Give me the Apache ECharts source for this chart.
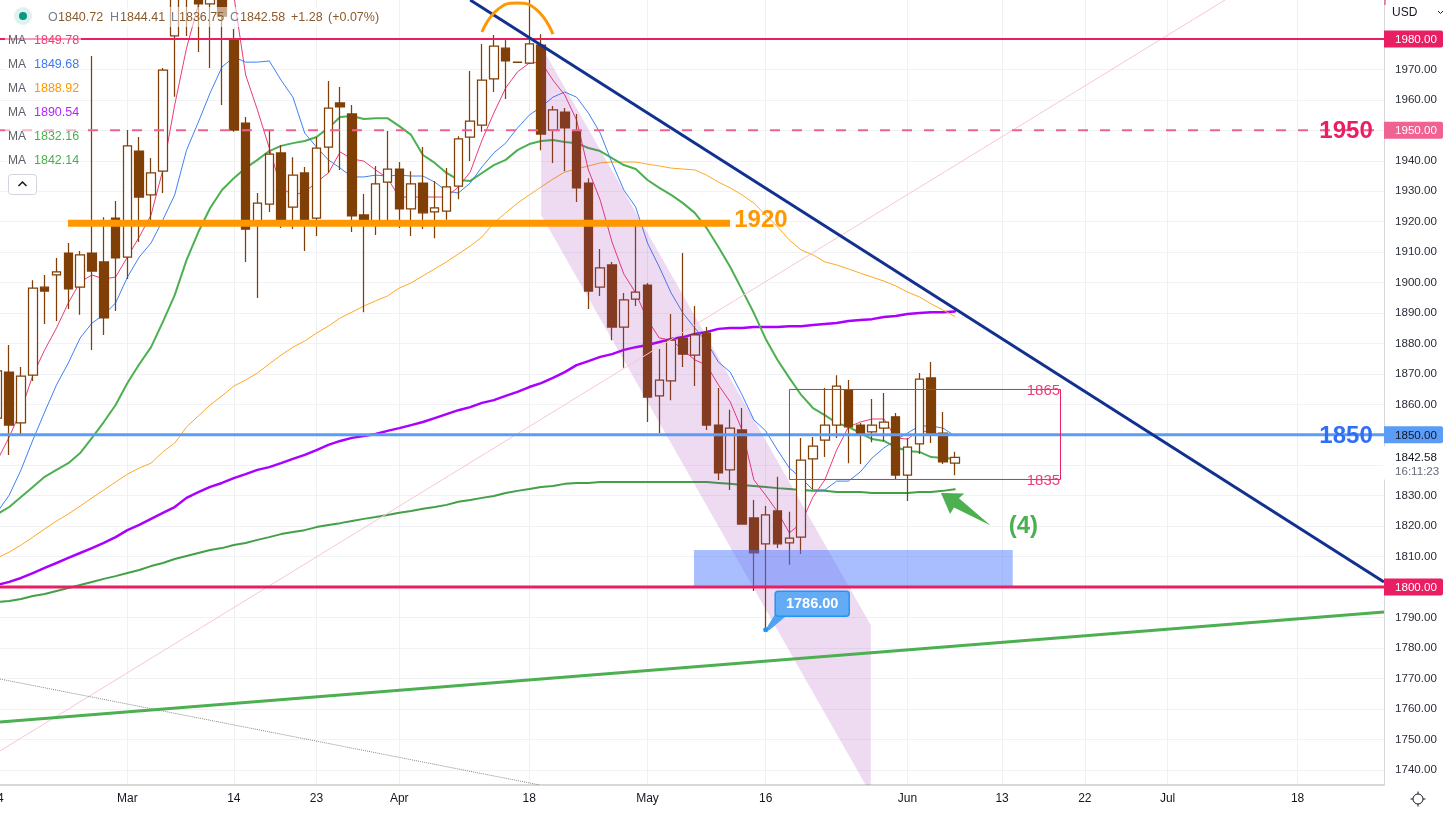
<!DOCTYPE html>
<html><head><meta charset="utf-8">
<style>html,body{margin:0;padding:0;background:#fff}#c{width:1449px;height:813px}</style>
<script src="https://cdn.jsdelivr.net/npm/echarts@6/dist/echarts.min.js"></script>
</head><body><div id="c"></div>
<script>
const opens=[1855.5,1870.6,1853.9,1869.6,1898.5,1902.5,1909.7,1898.5,1909.7,1906.8,
1921.2,1908.4,1943.2,1928.8,1936.6,1981.0,2000,1998,1991.5,2000,
1980.0,1952.4,1919.2,1925.8,1942.6,1924.8,1936.0,1921.2,1944.5,1959.0,
1955.4,1922.2,1919.9,1933.0,1937.3,1924.2,1932.7,1923.2,1923.5,1931.7,
1947.8,1951.7,1966.9,1977.0,1972.4,1972.1,1978.0,1950.1,1956.0,1949.8,
1932.7,1898.5,1905.8,1885.4,1894.6,1899.2,1862.8,1867.7,1881.8,1876.2,
1883.4,1853.2,1838.5,1851.6,1822.7,1814.2,1825.0,1814.5,1816.4,1842.1,
1848.3,1853.2,1864.7,1853.2,1851.0,1852.2,1855.9,1836.8,1847.0,1868.7,
1850.6,1840.72];
const closes=[1871.0,1853.2,1869.3,1898.2,1897.2,1903.5,1897.9,1909.1,1903.8,1888.4,
1908.1,1944.9,1928.1,1936.0,1969.8,1996,1996,1991.5,1998,1987.5,
1950.1,1917.6,1926.1,1942.2,1919.9,1935.3,1919.9,1944.2,1957.3,1957.7,
1921.9,1919.9,1932.4,1937.3,1924.2,1932.4,1922.9,1924.5,1931.4,1947.2,
1953.0,1966.5,1977.7,1972.8,1972.3,1978.4,1948.8,1956.7,1950.8,1931.1,
1897.2,1904.8,1885.4,1894.3,1896.9,1862.4,1868.0,1881.1,1876.5,1882.8,
1853.2,1837.5,1852.2,1820.7,1811.2,1823.7,1814.2,1816.1,1841.7,1846.3,
1853.2,1866.0,1852.6,1850.3,1853.2,1854.2,1836.8,1846.0,1868.3,1850.6,
1841.1,1842.58];
const lows=[1848.3,1843.4,1850.3,1867.7,1886.4,1887.4,1891.3,1889.4,1877.9,1882.8,
1890.7,1901.2,1913.3,1919.9,1929.4,1961.0,1981.0,1975.7,1970.5,1958.3,
1949.5,1906.8,1894.9,1923.2,1917.9,1917.6,1910.4,1915.3,1936.0,1937.0,
1916.6,1890.3,1915.6,1919.9,1917.9,1915.3,1917.6,1914.6,1920.6,1927.4,
1939.9,1949.5,1962.6,1960.3,1972.2,1971.8,1943.5,1939.3,1936.6,1926.5,
1891.3,1895.6,1881.1,1872.0,1892.3,1854.2,1850.6,1861.4,1872.3,1866.0,
1851.6,1835.2,1831.9,1820.7,1798.7,1786.0,1812.8,1807.3,1810.9,1832.2,
1842.7,1849.0,1840.7,1840.4,1847.6,1848.0,1835.5,1828.3,1843.7,1847.3,
1840.4,1836.75];
const highs=[1877.9,1879.5,1872.3,1900.8,1902.5,1908.1,1913.0,1910.4,1974.4,1921.5,
1926.8,1950.1,1947.8,1940.9,1970.5,2002,2004,2002,2003,2004,
1983.3,1954.4,1929.4,1949.8,1945.2,1941.2,1938.0,1947.8,1966.2,1964.2,
1958.3,1929.1,1938.3,1949.8,1939.6,1936.6,1944.5,1933.4,1937.6,1948.1,
1969.5,1978.4,1981.3,1979.7,1972.5,1994,1981.6,1958.0,1957.3,1955.4,
1934.3,1911.0,1906.8,1896.6,1919.9,1899.9,1878.2,1889.7,1909.7,1892.3,
1885.4,1865.4,1858.2,1858.8,1828.6,1826.6,1836.2,1824.7,1849.0,1849.3,
1865.4,1869.6,1868.0,1853.9,1861.8,1863.7,1857.2,1849.0,1870.3,1873.9,
1857.5,1844.41];

const maPink=[1841.7,1849.3,1858.1,1869.6,1877.9,1885.1,1893.3,1900.2,1902.5,1901.2,
1901.8,1908.4,1915.0,1922.2,1937.0,1958.3,1977.0,1991.2,2002.7,2005.9,
1994.4,1968.2,1956.7,1944.2,1931.1,1928.8,1929.7,1933.0,1936.0,1942.9,
1940.6,1939.9,1937.0,1934.3,1928.1,1928.1,1928.1,1928.1,1928.1,1931.4,
1936.3,1946.8,1955.7,1963.9,1969.2,1972.1,1972.4,1966.5,1961.6,1953.4,
1937.0,1927.1,1913.3,1902.8,1896.6,1887.7,1881.8,1881.1,1877.9,1874.6,
1872.9,1866.4,1860.8,1851.6,1835.2,1830.2,1824.7,1817.8,1821.0,1829.6,
1835.2,1845.0,1852.6,1854.2,1855.2,1855.2,1849.0,1848.6,1851.6,1850.6,
1850.3,1849.78];
const maBlue=[1824.7,1830.2,1838.5,1848.3,1857.5,1866.4,1873.6,1881.8,1886.7,1889.4,
1893.3,1901.8,1908.4,1913.0,1920.6,1928.8,1943.5,1952.7,1962.3,1970.8,
1974.1,1972.4,1972.4,1972.8,1966.5,1960.9,1949.1,1944.5,1940.3,1937.6,
1934.7,1934.7,1935.3,1935.0,1935.3,1935.0,1935.0,1933.0,1930.1,1929.4,
1932.7,1938.0,1942.6,1945.8,1950.8,1955.0,1957.7,1960.9,1962.6,1960.9,
1955.7,1949.1,1939.3,1930.4,1924.8,1913.0,1905.1,1896.6,1890.0,1885.1,
1880.5,1873.9,1870.6,1863.1,1854.9,1851.3,1845.0,1839.1,1835.8,1831.9,
1831.9,1834.8,1834.8,1837.8,1842.4,1845.7,1848.3,1850.6,1852.9,1852.9,
1852.2,1849.68];
const maGreen=[1824.0,1826.3,1829.6,1832.9,1836.2,1838.5,1840.7,1844.0,1849.0,1854.2,
1859.8,1867.0,1873.2,1878.8,1887.1,1895.9,1907.4,1916.6,1924.5,1930.4,
1934.3,1937.6,1940.3,1943.2,1944.9,1945.8,1946.5,1947.8,1950.8,1954.4,
1954.7,1953.7,1954.0,1954.0,1951.4,1948.5,1941.9,1939.3,1936.0,1933.7,
1933.4,1936.0,1938.6,1940.3,1943.5,1945.5,1946.5,1946.8,1946.2,1945.8,
1944.2,1943.2,1940.9,1938.6,1937.3,1933.7,1931.1,1928.8,1926.1,1922.9,
1917.9,1911.7,1905.1,1897.6,1890.0,1881.5,1874.6,1868.7,1863.1,1858.8,
1856.5,1853.9,1852.6,1850.6,1848.6,1848.0,1846.0,1844.7,1844.4,1842.7,
1842.4,1842.14];
const maOrange=[1809.6,1811.5,1813.8,1816.4,1819.1,1821.7,1824.0,1826.6,1829.3,1831.9,
1834.5,1837.1,1839.1,1840.7,1844.4,1847.3,1852.6,1856.2,1859.8,1862.8,
1866.0,1868.0,1870.3,1873.3,1876.2,1878.8,1880.8,1883.4,1885.7,1888.4,
1890.3,1892.3,1894.0,1895.6,1898.2,1899.9,1902.2,1904.5,1906.8,1909.4,
1912.0,1915.0,1919.6,1922.9,1926.1,1928.8,1931.4,1934.0,1936.3,1937.3,
1938.3,1939.3,1939.6,1939.6,1939.6,1938.9,1938.3,1937.6,1937.3,1937.0,
1935.3,1933.0,1931.1,1928.8,1926.1,1922.2,1918.3,1914.0,1910.7,1909.1,
1906.8,1905.8,1904.5,1903.1,1901.8,1900.5,1898.9,1896.9,1895.3,1893.0,
1891.0,1888.92];
const maPurple=[1800.7,1801.7,1803.0,1804.6,1806.3,1807.9,1809.6,1811.2,1812.8,1814.5,
1816.4,1818.7,1820.4,1822.4,1824.4,1826.3,1829.3,1831.2,1832.9,1834.2,
1835.8,1837.1,1838.5,1839.4,1840.7,1842.1,1843.4,1845.0,1846.7,1848.0,
1849.0,1849.6,1850.3,1851.3,1852.2,1853.2,1854.2,1855.5,1856.8,1858.1,
1859.1,1860.5,1861.4,1862.8,1864.1,1865.7,1867.0,1868.7,1870.6,1872.9,
1874.2,1875.6,1876.5,1877.9,1878.8,1879.5,1880.5,1881.5,1882.1,1883.1,
1883.8,1884.8,1885.1,1885.1,1885.4,1885.4,1885.4,1885.7,1885.7,1886.1,
1886.4,1886.7,1887.4,1887.7,1888.0,1888.7,1889.0,1889.7,1890.0,1890.3,
1890.3,1890.54];
const maLong=[1795.1,1795.4,1796.1,1797.1,1797.7,1798.7,1799.7,1800.7,1801.7,1802.7,
1803.6,1804.6,1805.6,1806.9,1807.9,1809.2,1810.2,1811.2,1812.2,1812.8,
1813.8,1814.5,1815.5,1816.4,1817.4,1818.1,1818.7,1819.7,1820.4,1821.0,
1821.7,1822.4,1823.0,1823.7,1824.4,1825.0,1825.7,1826.3,1827.0,1828.0,
1828.6,1829.3,1829.9,1830.9,1831.6,1832.2,1832.9,1833.2,1833.9,1834.2,
1834.2,1834.5,1834.5,1834.5,1834.5,1834.5,1834.5,1834.5,1834.5,1834.5,
1834.5,1834.2,1833.9,1833.5,1833.2,1832.9,1832.5,1832.2,1831.9,1831.6,
1831.6,1831.2,1831.2,1831.2,1830.9,1830.9,1830.9,1830.9,1831.2,1831.2,
1831.6,1832.16];

const xTickBars=[11,20,27,34,45,55,65,77,85,92,99,110];
const xTickLabels=['Mar','14','23','Apr','18','May','16','Jun','13','22','Jul','18'];
const yTicks=[1740,1750,1760,1770,1780,1790,1800,1810,1820,1830,1840,1850,1860,1870,1880,1890,1900,1910,1920,1930,1940,1950,1960,1970,1980];
const tagValues=[1980,1950,1850,1800];
const tagFills=['#e91e63','#f06292','#5b9cf6','#e91e63'];
const tagText=['#fff','#fff','#131722','#fff'];
const maLegend=['1849.78','1849.68','1888.92','1890.54','1832.16','1842.14'];
const maColors=['#f23b73','#3d78f5','#ff9800','#b026ff','#4caf50','#4caf50'];
const ohlcParts=['O','1840.72','H','1844.41','L','1836.75','C','1842.58','+1.28','(+0.07%)'];

const X_MIN=0.22, X_MAX=117.31, Y_MIN=1735.0, Y_MAX=1992.81;
const navyLine=[[40.0,1992.8],[117.31,1801.7]];
const greenLine=[[0.22,1755.7],[117.31,1791.8]];
const pinkLine=[[0.22,1746.2],[103.86,1992.8]];
const dottedLine=[[0.22,1769.8],[45.9,1735]];
const orangeLevel=[[5.97,1919.5],[61.98,1919.5]];
const topArc=[[41.0,1982.3],[42.27,1989.5],[43.96,1991.8],[45.65,1989.5],[47.0,1981.6]];
const bandPoly=[[46,1977.7],[73.9,1787.5],[73.9,1732],[46,1922.2]];
const zoneBox=[58.93,1812.2,85.9,1800];
const rangeBoxLine=[[67.01,1864.9],[89.94,1864.9],[89.94,1835.34],[67.01,1835.34],[67.01,1864.9]];
const arrowPoly=[[79.83,1830.9],[81.8,1830.7],[81.35,1829.2],[84.03,1820.2],[80.93,1826.1],[80.6,1824.0]];
const noteBar=65, noteValue=1786, noteText='1786.00';
const lastPrice='1842.58', lastPriceValue=1842.58, countdown='16:11:23';

const barIdx=opens.map((_,i)=>i);
const candleData=barIdx.map(i=>[i,opens[i],closes[i],lows[i],highs[i]]);
const toLine=a=>a.map((v,i)=>[i,v]);
const FONT='"Liberation Sans",Arial,sans-serif';

function maSeries(arr,color,width,z){return {type:'line',data:toLine(arr),showSymbol:false,symbol:'none',z:z||2,silent:true,
  lineStyle:{color:color,width:width,cap:'round',join:'round'}};}
function drawLine(pts,color,width,type,z,smooth){return {type:'line',data:pts,showSymbol:false,symbol:'none',z:z||6,silent:true,smooth:!!smooth,
  lineStyle:{color:color,width:width,type:type||'solid'}};}
function custom(render,z,clip){return {type:'custom',coordinateSystem:'cartesian2d',data:[[X_MIN,Y_MIN]],renderItem:render,z:z,clip:!!clip,silent:true};}
function poly(api,pts,style){return {type:'polygon',shape:{points:pts.map(p=>api.coord(p))},style:style};}
function label(api,bar,val,text,fill,font){const c=api.coord([bar,val]);
  return {type:'text',x:c[0],y:c[1],style:{text:text,fill:fill,font:font,textAlign:'center',textVerticalAlign:'middle'}};}

const series=[
  maSeries(maLong,'#43a047',2,2),
  maSeries(maPurple,'#aa00ff',2.5,2),
  maSeries(maOrange,'#ffa726',1,2),
  maSeries(maGreen,'#4caf50',2,2),
  maSeries(maBlue,'#4080f5',1,2),
  maSeries(maPink,'#ec3a74',1,2),
  {type:'candlestick',data:candleData,barWidth:9,z:3,silent:true,encode:{x:0,y:[1,2,3,4]},
   itemStyle:{color:'#ffffff',color0:'#7f3f06',borderColor:'#7f3f06',borderColor0:'#7f3f06',borderWidth:1.25}},
  custom((p,api)=>poly(api,bandPoly,{fill:'rgba(156,39,176,0.17)'}),4,true),
  custom((p,api)=>{const a=api.coord([zoneBox[0],zoneBox[1]]),b=api.coord([zoneBox[2],zoneBox[3]]);
    return {type:'rect',shape:{x:a[0],y:a[1],width:b[0]-a[0],height:b[1]-a[1]},style:{fill:'rgba(73,120,255,0.48)'}};},4,true),
  drawLine(pinkLine,'#f8c6d2',1,'solid',5),
  drawLine(dottedLine,'#8a8a8a',1,'dotted',5),
  drawLine([[X_MIN,1950],[X_MAX,1950]],'#ee6190',2,[10,12],6),
  drawLine([[X_MIN,1980],[X_MAX,1980]],'#e91e63',2,'solid',6),
  drawLine([[X_MIN,1850],[X_MAX,1850]],'#5b9cf6',3,'solid',6),
  drawLine([[X_MIN,1800],[X_MAX,1800]],'#e91e63',3,'solid',6),
  drawLine(orangeLevel,'#ff9800',7,'solid',6),
  drawLine(navyLine,'#12308f',3,'solid',7),
  drawLine(greenLine,'#4caf50',3,'solid',7),
  drawLine(topArc,'#ff9800',3,'solid',7,true),
  drawLine(rangeBoxLine,'#e91e63',1,'solid',7),
  custom((p,api)=>({type:'group',children:[
      label(api,88.5,1864.4,'1865','#ec407a','15px '+FONT),
      label(api,88.5,1835,'1835','#ec407a','15px '+FONT)]}),8),
  custom((p,api)=>({type:'group',children:[
      poly(api,arrowPoly,{fill:'#4caf50'}),
      label(api,86.8,1820,'(4)','#4caf50','bold 24px '+FONT),
      label(api,64.6,1920.5,'1920','#ff9800','bold 24px '+FONT),
      label(api,114.1,1949.7,'1950','#e91e63','bold 24px '+FONT),
      label(api,114.1,1849.5,'1850','#2f6ff5','bold 24px '+FONT)]}),8),
  custom((p,api)=>{const c=api.coord([noteBar,noteValue]);const x=c[0],y=c[1];
    return {type:'group',children:[
      {type:'polygon',shape:{points:[[x+1,y-2],[x+9,y-15],[x+22,y-15],[x+3,y+1]]},style:{fill:'#4fa3f2'}},
      {type:'circle',shape:{cx:x,cy:y,r:2.5},style:{fill:'#2196f3'}},
      {type:'rect',shape:{x:x+9.5,y:y-38.5,width:74,height:25,r:3},style:{fill:'#64abf5',stroke:'#2196f3',lineWidth:1.5}},
      {type:'text',x:x+46.5,y:y-26,style:{text:noteText,fill:'#fff',font:'bold 14.5px '+FONT,textAlign:'center',textVerticalAlign:'middle'}}]};},9),
  custom((p,api)=>{const right=api.coord([X_MAX,0])[0];const kids=[];
    const ly=api.coord([0,lastPriceValue])[1];
    kids.push({type:'rect',shape:{x:right-1,y:ly-11,width:66,height:33},style:{fill:'#fff'}});
    kids.push({type:'text',x:right+11,y:ly+0.5,style:{text:lastPrice,fill:'#131722',font:'11.6px '+FONT,textVerticalAlign:'middle'}});
    kids.push({type:'text',x:right+11,y:ly+14.5,style:{text:countdown,fill:'#666b78',font:'11.6px '+FONT,textVerticalAlign:'middle'}});
    tagValues.forEach((v,i)=>{const y=api.coord([0,v])[1];
      kids.push({type:'rect',shape:{x:right,y:y-8.5,width:59,height:17,r:[0,2,2,0]},style:{fill:tagFills[i]}});
      kids.push({type:'text',x:right+11,y:y+0.5,style:{text:v.toFixed(2),fill:tagText[i],font:'11.6px '+FONT,textVerticalAlign:'middle'}});
    });
    kids.push({type:'text',x:api.coord([114.2,0])[0],y:-7,style:{text:'2000',fill:'#e91e63',font:'bold 24px '+FONT,textAlign:'center',textVerticalAlign:'middle'}});
    return {type:'group',children:kids};},10)
];

const els=[];
const T=(text,x,y,fill,font,extra)=>els.push(Object.assign({type:'text',x:x,y:y,z:30,silent:true,style:{text:text,fill:fill,font:font||('12.5px '+FONT),textVerticalAlign:'middle'}},extra||{}));
els.push({type:'rect',z:29,shape:{x:14,y:7,width:362,height:20,r:3},style:{fill:'rgba(255,255,255,0.55)'}});
els.push({type:'circle',z:30,shape:{cx:23,cy:16,r:9},style:{fill:'rgba(38,166,154,0.15)'}});
els.push({type:'circle',z:30,shape:{cx:23,cy:16,r:4},style:{fill:'#089981'}});
const ohlcX=[48,58,110,120,171,179,230,240,291,328];
const BROWN='#8a5a2c', GRAYL='#7a7d88';
ohlcParts.forEach((s,i)=>T(s,ohlcX[i],18,(i<8&&i%2===0)?GRAYL:BROWN,'12.5px '+FONT));
const rowY=[41,64.5,88.5,113,137,161];
maLegend.forEach((v,i)=>{
  els.push({type:'rect',z:29,shape:{x:5,y:rowY[i]-10,width:76,height:20,r:2},style:{fill:'rgba(255,255,255,0.55)'}});
  T('MA',8,rowY[i],'#5d606b','12px '+FONT);
  T(v,34,rowY[i],maColors[i],'12.5px '+FONT);
});
els.push({type:'rect',z:30,shape:{x:8.5,y:174.5,width:28,height:20,r:3},style:{fill:'rgba(255,255,255,0.9)',stroke:'#d1d4dc',lineWidth:1}});
els.push({type:'polyline',z:31,shape:{points:[[18.5,186],[22.5,182],[26.5,186]]},style:{stroke:'#131722',lineWidth:1.5,fill:null}});
T('USD',1392,12.5,'#131722','12px '+FONT);
els.push({type:'polyline',z:31,shape:{points:[[1438,11],[1440.5,13.5],[1443,11]]},style:{stroke:'#131722',lineWidth:1,fill:null}});
T('14',-3,799,'#131722','12px '+FONT,{style:{text:'14',fill:'#131722',font:'12px '+FONT,textAlign:'center',textVerticalAlign:'middle'}});
els.push({type:'line',z:31,shape:{x1:1385,y1:0,x2:1385,y2:5},style:{stroke:'#e91e63',lineWidth:1}});
els.push({type:'circle',z:31,shape:{cx:1418,cy:799,r:5},style:{fill:null,stroke:'#131722',lineWidth:1}});
[[1418,791.5,1418,794],[1418,804,1418,806.5],[1410.5,799,1413,799],[1423,799,1425.5,799]].forEach(s=>
  els.push({type:'line',z:31,shape:{x1:s[0],y1:s[1],x2:s[2],y2:s[3]},style:{stroke:'#131722',lineWidth:1}}));

const chart=echarts.init(document.getElementById('c'),null,{renderer:'canvas'});
chart.setOption({
  animation:false,backgroundColor:'#fff',
  grid:{left:0,right:65,top:0,bottom:28,containLabel:false,outerBoundsMode:'none'},
  xAxis:{type:'value',min:X_MIN,max:X_MAX,scale:true,
    axisLine:{show:true,onZero:false,lineStyle:{color:'#d8d8d8',width:2}},
    axisTick:{show:false,customValues:xTickBars},
    axisLabel:{customValues:xTickBars,margin:8,color:'#131722',fontSize:12,fontFamily:'Liberation Sans',
      hideOverlap:false,formatter:v=>xTickLabels[xTickBars.indexOf(v)]||''},
    splitLine:{show:true,lineStyle:{color:'#eef0f4',width:1}}},
  yAxis:{type:'value',position:'right',min:Y_MIN,max:Y_MAX,scale:true,
    axisLine:{show:true,onZero:false,lineStyle:{color:'#d8d8d8',width:1}},
    axisTick:{show:false,customValues:yTicks},
    axisLabel:{customValues:yTicks,margin:11,color:'#2a2e39',fontSize:11.6,fontFamily:'Liberation Sans',
      hideOverlap:false,formatter:v=>v.toFixed(2)},
    splitLine:{show:true,lineStyle:{color:'#f0f2f5',width:1}}},
  tooltip:{show:false},legend:{show:false},
  series:series,
  graphic:{elements:els}
});
</script></body></html>
